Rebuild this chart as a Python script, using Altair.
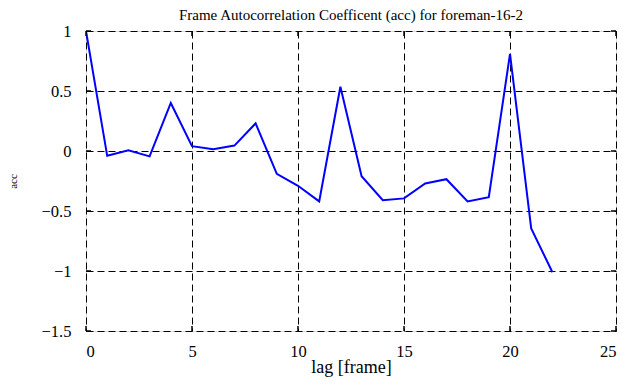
import altair as alt
import pandas as pd

lags = list(range(23))
acc = [1.0, -0.04, 0.005, -0.045, 0.40, 0.04, 0.015, 0.045, 0.23, -0.19, -0.29, -0.42,
       0.535, -0.21, -0.41, -0.395, -0.27, -0.235, -0.42, -0.385, 0.81, -0.645, -1.01]
x_ticks = [0, 5, 10, 15, 20, 25]
y_ticks = [1, 0.5, 0, -0.5, -1, -1.5]

title = "Frame Autocorrelation Coefficent (acc) for foreman-16-2"
FONT = "Liberation Serif"

df = pd.DataFrame({"lag": lags, "acc": acc})
xt = pd.DataFrame({"t": x_ticks})
yt = pd.DataFrame({"t": y_ticks})

W, H = 530, 300
xscale = alt.Scale(domain=[0, 25], nice=False, zero=False)
yscale = alt.Scale(domain=[-1.5, 1], nice=False, zero=False)
DASH = [7, 4]

line = alt.Chart(df).mark_line(color="#0000ff", strokeWidth=2, clip=True).encode(
    x=alt.X("lag:Q", scale=xscale,
            axis=alt.Axis(values=x_ticks, title="lag [frame]", grid=True, gridColor="black",
                          gridDash=DASH, gridOpacity=1, gridWidth=1, ticks=False, domain=False,
                          labelFont=FONT, labelFontSize=16.5, labelColor="black", labelPadding=12,
                          titleFont=FONT, titleFontSize=18, titleFontWeight="normal",
                          titleColor="black", titlePadding=-1)),
    y=alt.Y("acc:Q", scale=yscale,
            axis=alt.Axis(values=y_ticks, title="acc", grid=True, gridColor="black",
                          gridDash=DASH, gridOpacity=1, gridWidth=1, ticks=False, domain=False,
                          labelFont=FONT, labelFontSize=16.5, labelColor="black", labelPadding=15,
                          titleFont=FONT, titleFontSize=11, titleFontWeight="normal",
                          titleColor="black", titlePadding=23, format="~g")),
)

tick_len = 5
xb = alt.Chart(xt).mark_rule(color="black", strokeWidth=1.5).encode(
    x=alt.X("t:Q", scale=xscale), y=alt.value(H), y2=alt.value(H - tick_len))
xtop = alt.Chart(xt).mark_rule(color="black", strokeWidth=1.5).encode(
    x=alt.X("t:Q", scale=xscale), y=alt.value(0), y2=alt.value(tick_len))
yl = alt.Chart(yt).mark_rule(color="black", strokeWidth=1.5).encode(
    y=alt.Y("t:Q", scale=yscale), x=alt.value(0), x2=alt.value(tick_len))
yr = alt.Chart(yt).mark_rule(color="black", strokeWidth=1.5).encode(
    y=alt.Y("t:Q", scale=yscale), x=alt.value(W), x2=alt.value(W - tick_len))

chart = alt.layer(line, xb, xtop, yl, yr).properties(
    width=W, height=H,
    title=alt.TitleParams(title, font=FONT, fontSize=15, fontWeight="normal", color="black",
                          offset=0),
    autosize=alt.AutoSizeParams(type="none"),
    padding={"left": 78, "top": 23, "right": 11, "bottom": 48},
).configure_view(stroke="black", strokeWidth=2).configure(background="white")

chart.save("out.html", embed_options={"renderer": "svg", "actions": False})
